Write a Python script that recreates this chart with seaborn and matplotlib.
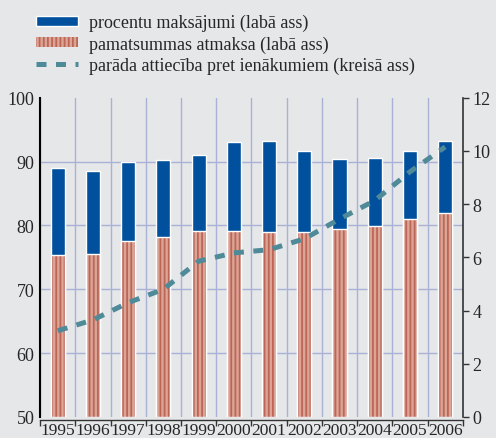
import numpy as np
import pandas as pd
import matplotlib
matplotlib.use("Agg")
import matplotlib.pyplot as plt
from matplotlib.patches import Patch
from matplotlib.lines import Line2D
import seaborn as sns

# data
years = ["1995", "1996", "1997", "1998", "1999", "2000",
         "2001", "2002", "2003", "2004", "2005", "2006"]
# right axis: principal repayment and interest payments
principal = [6.07, 6.12, 6.60, 6.77, 6.98, 6.98, 6.96, 6.96, 7.06, 7.18, 7.44, 7.66]
interest = [3.29, 3.14, 3.00, 2.90, 2.88, 3.36, 3.41, 3.02, 2.64, 2.54, 2.54, 2.73]
# left axis: debt to income ratio
debt_ratio = [63.5, 65.2, 67.9, 70.0, 74.4, 75.7, 76.2, 77.9, 81.0, 83.9, 88.4, 92.3]

lbl_interest = "procentu maksājumi (labā ass)"
lbl_principal = "pamatsummas atmaksa (labā ass)"
lbl_ratio = "parāda attiecība pret ienākumiem (kreisā ass)"

BG = "#e6e7e9"
BLUE = "#00509e"
RED_BASE = "#dba596"
RED_STRIPE = "#bd6658"
TEAL = "#4e8a97"
GRID = "#a9b1d6"

sns.set_theme(style="white")
plt.rcParams["font.family"] = ["Liberation Serif", "DejaVu Serif"]
plt.rcParams["hatch.linewidth"] = 1.3

df = pd.DataFrame({"year": years, "principal": principal, "interest": interest})
df["total"] = df["principal"] + df["interest"]

fig = plt.figure(figsize=(4.96, 4.39), dpi=100, facecolor=BG)
ax = fig.add_axes([0.081, 0.048, 0.852, 0.727], facecolor=BG)

# stacked bars (right scale)
sns.barplot(data=df, x="year", y="total", color=BLUE, width=0.4,
            saturation=1, edgecolor="white", linewidth=1.0, ax=ax, zorder=2)
sns.barplot(data=df, x="year", y="principal", color=RED_BASE, width=0.4,
            saturation=1, linewidth=0, hatch="||||", ax=ax, zorder=3)
for p in ax.patches[len(years):]:
    p.set_edgecolor(RED_STRIPE)
    p.set_linewidth(0)
sns.barplot(data=df, x="year", y="principal", fill=False, width=0.4,
            edgecolor="white", linewidth=1.0, ax=ax, zorder=4)

# line axis (left scale) -- twinx moves ax ticks to the left, fix below
ax2 = ax.twinx()
left_lo, left_hi = 50, 100
sns.lineplot(x=np.arange(len(years)), y=debt_ratio, color=TEAL, linewidth=3.6,
             ax=ax2, zorder=5)
ax2.lines[0].set_dashes((2.0, 1.9))
ax2.set_ylim(left_lo, left_hi)
ax2.set_yticks(np.arange(50, 101, 10))
ax2.yaxis.tick_left()
ax2.yaxis.set_label_position("left")
ax2.tick_params(axis="y", length=0, labelsize=13, pad=4)
ax2.set_ylabel("")
for side in ["top", "right", "bottom"]:
    ax2.spines[side].set_visible(False)
ax2.spines["left"].set_color("black")
ax2.spines["left"].set_linewidth(1.5)

ax.set_ylim(0, 12)
ax.set_xlim(-0.5, len(years) - 0.5)
ax.set_xlabel("")
ax.set_ylabel("")
ax.yaxis.tick_right()
ax.set_yticks(np.arange(0, 13, 2))
ax.tick_params(axis="y", which="major", direction="out", length=4, width=1,
               color="#333333", labelsize=13, pad=3)

# grid: horizontal lines follow the left scale, vertical ones at category edges
grid_left = [60, 70, 80, 90]
grid_right = [(v - left_lo) / (left_hi - left_lo) * 12 for v in grid_left]
ax.set_yticks(grid_right, minor=True)
ax.set_xticks(np.arange(len(years) + 1) - 0.5, minor=True)
ax.tick_params(axis="y", which="minor", length=0, left=False, right=False)
ax.tick_params(axis="x", which="minor", direction="out", length=4, width=1,
               color="#333333", bottom=True)
ax.tick_params(axis="x", which="major", length=0, labelsize=12.5, pad=2)
ax.grid(True, which="minor", color=GRID, linewidth=1.0, zorder=0)
ax.grid(False, which="major")
ax.set_axisbelow(True)

ax.spines["top"].set_visible(False)
ax.spines["left"].set_visible(False)
ax.spines["right"].set_color("#333333")
ax.spines["right"].set_linewidth(1.2)
ax.spines["bottom"].set_color("#333333")
ax.spines["bottom"].set_linewidth(1.0)
ax.spines["bottom"].set_position(("outward", 2))

handles = [
    Patch(facecolor=BLUE, edgecolor="white", linewidth=1),
    Patch(facecolor=RED_BASE, edgecolor=RED_STRIPE, hatch="||||", linewidth=0),
    Line2D([0], [0], color=TEAL, linewidth=3.6, dashes=(2.0, 1.9)),
]
fig.legend(handles, [lbl_interest, lbl_principal, lbl_ratio],
           loc="upper left", bbox_to_anchor=(0.058, 0.982), frameon=False,
           fontsize=13, handlelength=2.3, handleheight=0.45,
           handletextpad=0.65, labelspacing=0.22, borderaxespad=0)

fig.savefig("out.png", dpi=100, facecolor=BG)
